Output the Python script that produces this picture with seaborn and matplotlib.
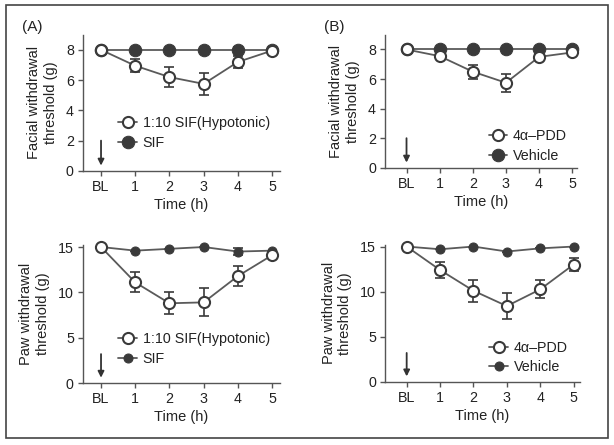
import numpy as np
import pandas as pd
import matplotlib
matplotlib.use('Agg')
import matplotlib.pyplot as plt
import seaborn as sns
from matplotlib.patches import Rectangle

sns.set_style('ticks')
plt.rcParams['font.family'] = ['Liberation Sans', 'DejaVu Sans']
plt.rcParams['font.size'] = 10
plt.rcParams['text.color'] = '#222'
plt.rcParams['axes.labelcolor'] = '#222'

# time points (BL = baseline)
time_pos = [0, 1, 2, 3, 4, 5]
time_labels = ['BL', '1', '2', '3', '4', '5']

# (A) facial
a_face_hypo = [8.0, 6.95, 6.2, 5.75, 7.2, 7.95]
a_face_hypo_err = [0.0, 0.42, 0.68, 0.72, 0.42, 0.1]
a_face_sif = [8.0, 8.0, 8.0, 8.0, 8.0, 8.0]
a_face_sif_err = [0.0, 0.0, 0.0, 0.0, 0.2, 0.0]

# (A) paw
a_paw_hypo = [15.0, 11.1, 8.8, 8.9, 11.8, 14.1]
a_paw_hypo_err = [0.0, 1.1, 1.2, 1.55, 1.1, 0.2]
a_paw_sif = [15.0, 14.6, 14.8, 15.0, 14.5, 14.6]
a_paw_sif_err = [0.0, 0.0, 0.0, 0.0, 0.4, 0.0]

# (B) facial
b_face_pdd = [8.0, 7.55, 6.5, 5.75, 7.5, 7.8]
b_face_pdd_err = [0.0, 0.12, 0.48, 0.62, 0.2, 0.1]
b_face_veh = [8.0, 8.0, 8.0, 8.0, 8.0, 8.0]
b_face_veh_err = [0.0, 0.0, 0.0, 0.0, 0.0, 0.0]

# (B) paw
b_paw_pdd = [15.0, 12.4, 10.1, 8.4, 10.25, 13.0]
b_paw_pdd_err = [0.0, 0.9, 1.2, 1.4, 1.0, 0.7]
b_paw_veh = [15.0, 14.7, 15.0, 14.45, 14.8, 15.0]
b_paw_veh_err = [0.0, 0.0, 0.0, 0.0, 0.0, 0.0]

line_col = '#5a5a5a'
dark = '#3a3a3a'


def panel(ax, open_y, open_err, fill_y, fill_err, open_lab, fill_lab,
          ylim, yticks, ylabel, xlim, arrow, leg_anchor, big_fill=9):
    df_o = pd.DataFrame({'t': time_pos, 'v': open_y})
    df_f = pd.DataFrame({'t': time_pos, 'v': fill_y})
    sns.lineplot(data=df_f, x='t', y='v', ax=ax, color=line_col, lw=1.3,
                 marker='o', ms=big_fill, mfc=dark, mec=dark, label=fill_lab,
                 clip_on=False, zorder=3)
    ax.errorbar(time_pos, fill_y, yerr=fill_err, fmt='none', ecolor=dark,
                elinewidth=1.2, capsize=3.5, capthick=1.2, zorder=2)
    sns.lineplot(data=df_o, x='t', y='v', ax=ax, color=line_col, lw=1.3,
                 marker='o', ms=8, mfc='white', mec=dark, mew=1.5,
                 label=open_lab, clip_on=False, zorder=4)
    ax.errorbar(time_pos, open_y, yerr=open_err, fmt='none', ecolor=dark,
                elinewidth=1.2, capsize=3.5, capthick=1.2, zorder=3.5)
    ax.set_xlim(*xlim)
    ax.set_ylim(*ylim)
    ax.set_yticks(yticks)
    ax.set_xticks(time_pos)
    ax.set_xticklabels(time_labels)
    ax.set_xlabel('Time (h)', fontsize=10.5, labelpad=3)
    ax.set_ylabel(ylabel, fontsize=10.5, linespacing=1.2, labelpad=6)
    ax.tick_params(labelsize=10.3, length=3.5, width=1, color='#555',
                   labelcolor='#222', direction='out', pad=3)
    for s in ['top', 'right']:
        ax.spines[s].set_visible(False)
    for s in ['left', 'bottom']:
        ax.spines[s].set_color('#555')
        ax.spines[s].set_linewidth(1)
    ax.annotate('', xy=(0, arrow[1]), xytext=(0, arrow[0]),
                arrowprops=dict(arrowstyle='-|>', color='#333', lw=1.3,
                                mutation_scale=9, shrinkA=0, shrinkB=0))
    h, l = ax.get_legend_handles_labels()
    ax.legend(h[::-1], l[::-1], loc='upper left', bbox_to_anchor=leg_anchor,
              frameon=False, handlelength=1.3, handletextpad=0.4,
              labelspacing=0.4, fontsize=10.3, borderaxespad=0,
              borderpad=0)


fig = plt.figure(figsize=(6.14, 4.45), dpi=100)
fig.patches.append(Rectangle((0.0098, 0.0157), 0.980, 0.973,
                             transform=fig.transFigure, fill=False,
                             ec='#444', lw=1.2))

ax1 = fig.add_axes([0.135, 0.616, 0.321, 0.306])
ax2 = fig.add_axes([0.627, 0.623, 0.313, 0.299])
ax3 = fig.add_axes([0.135, 0.139, 0.321, 0.310])
ax4 = fig.add_axes([0.627, 0.142, 0.318, 0.308])

panel(ax1, a_face_hypo, a_face_hypo_err, a_face_sif, a_face_sif_err,
      '1:10 SIF(Hypotonic)', 'SIF', (0, 9.0), [0, 2, 4, 6, 8],
      'Facial withdrawal\nthreshold (g)', (-0.53, 5.23), (2.0, 0.35),
      (0.18, 0.40))
panel(ax2, b_face_pdd, b_face_pdd_err, b_face_veh, b_face_veh_err,
      '4\u03b1\u2013PDD', 'Vehicle', (0, 9.0), [0, 2, 4, 6, 8],
      'Facial withdrawal\nthreshold (g)', (-0.65, 5.15), (2.0, 0.35),
      (0.54, 0.29))
panel(ax3, a_paw_hypo, a_paw_hypo_err, a_paw_sif, a_paw_sif_err,
      '1:10 SIF(Hypotonic)', 'SIF', (0, 15.2), [0, 5, 10, 15],
      'Paw withdrawal\nthreshold (g)', (-0.53, 5.23), (3.2, 0.6),
      (0.18, 0.37), big_fill=6.5)
panel(ax4, b_paw_pdd, b_paw_pdd_err, b_paw_veh, b_paw_veh_err,
      '4\u03b1\u2013PDD', 'Vehicle', (0, 15.2), [0, 5, 10, 15],
      'Paw withdrawal\nthreshold (g)', (-0.65, 5.2), (3.2, 0.6),
      (0.535, 0.30), big_fill=6.5)

fig.text(0.036, 0.94, '(A)', fontsize=11, va='center')
fig.text(0.527, 0.94, '(B)', fontsize=11, va='center')

fig.savefig('out.png', dpi=100)
